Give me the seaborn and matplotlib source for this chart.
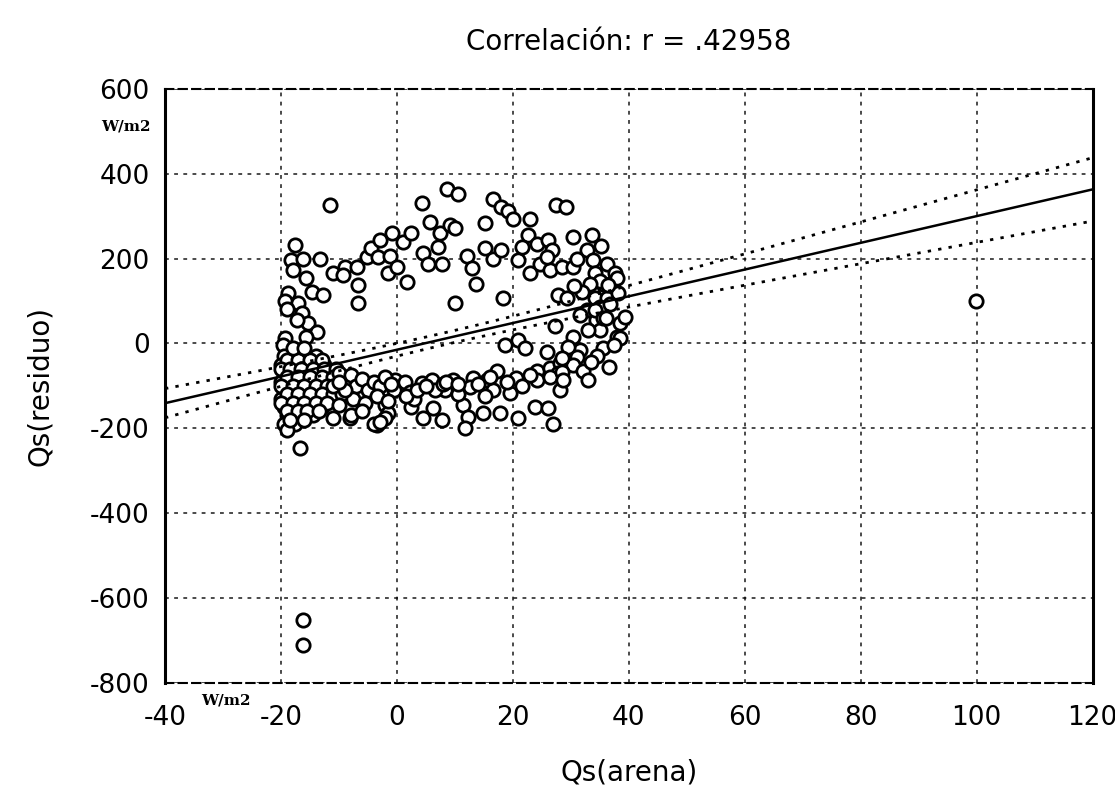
import numpy as np
import pandas as pd
import matplotlib
matplotlib.use("Agg")
import matplotlib.pyplot as plt
import seaborn as sns

# --- observations: Qs(arena) vs Qs(residuo), W/m2 ---
upper_x = [-11.5, -17.6, -18.2, -16.2, -13.3, -17.9, -15.6, -18.8, -19.3, -17.0,
           -14.7, -12.7, -19.0, -16.4, -15.3, -17.3, -13.8, -19.3, -15.6, -11.0,
           -9.0, -9.3, -6.9, -6.7, -6.7, -5.2, -4.4, -2.9, -0.9, -3.3,
           -1.2, -1.5, 0.0, 1.0, 2.5, 1.7, 4.3, 5.7, 7.4, 9.1,
           7.1, 4.5, 5.3, 7.7, 10.0,
           8.6, 10.5, 16.6, 18.0, 19.2, 20.0, 22.9, 27.5, 29.2, 10.0,
           15.2, 22.6, 24.1, 26.0, 26.7, 30.3, 33.6, 12.0, 15.2, 16.6,
           18.0, 20.9, 12.9, 13.7, 22.9, 24.7, 26.4, 28.4, 30.3, 25.8,
           32.7, 33.8, 36.2, 37.6, 34.1, 18.3, 27.8, 29.3, 33.8, 35.5,
           37.2, 34.1, 36.2, 38.1, 32.7, 35.0, 31.6, 34.4, 35.0, 27.2,
           30.3, 37.9, 38.4, 39.3,
           37.9, 35.0, 33.3, 36.4, 34.1, 36.8, 35.5, 32.9, 38.5, 31.0,
           35.2, 21.5, -19.6, -17.0, 32.0, 30.5, 36.0, 31.5, 35.5, 37.5]
upper_y = [327, 233, 196, 198, 200, 172, 153, 118, 101, 94,
           120, 113, 82, 71, 47, 54, 26, 12, 14, 165,
           179, 160, 181, 137, 94, 203, 224, 243, 259, 203,
           207, 165, 179, 238, 259, 144, 332, 285, 259, 278,
           226, 212, 188, 188, 94,
           365, 353, 341, 321, 313, 294, 294, 325, 321, 271,
           283, 255, 235, 243, 219, 250, 255, 207, 224, 200,
           219, 196, 177, 141, 165, 188, 172, 179, 179, 203,
           219, 196, 188, 165, 165, 108, 113, 108, 132, 141,
           144, 108, 108, 118, 78, 85, 66, 54, 31, 42,
           14, 14, 49, 61,
           153, 148, 141, 137, 78, 92, 59, 31, 12, 200,
           230, 226, -5, -15, 120, 135, 60, -15, -10, -5]

lower_x = [18.6, 20.9, 22.1, 25.8, 29.5, 31.0, 24.1, 26.4, 28.1, 27.8,
           30.3, 32.1, 32.9, 24.1, 26.4, 28.1, 20.6, 19.5, 17.2, 15.5,
           13.1, 16.6, 15.2, 9.7, 8.3, 11.4, 12.2, 11.7, 14.8, 17.8,
           20.9, 23.8, 26.0, 26.9, 7.7, 28.4, 28.4, 28.6,
           -0.3, 1.4, 2.2, 4.3, 6.0, 6.6, 12.6, 2.5, 4.5, 6.2,
           -8.1, -3.5, -2.1, -1.5, 8.0, 10.5, 3.0, 34.5, 36.5,
           -0.5, 1.5, 3.5, 5.0, 8.5, 10.5, 14.0, 16.0, 19.0, 21.5,
           23.0, 33.5]
lower_y = [-5, 7, -12, -21, -9, -33, -64, -59, -47, -71,
           -52, -64, -87, -87, -80, -111, -82, -118, -64, -87,
           -82, -111, -123, -87, -111, -146, -174, -200, -165, -163,
           -177, -151, -153, -189, -181, -35, -68, -87,
           -87, -92, -115, -94, -87, -111, -104, -151, -177, -153,
           -177, -193, -146, -165, -95, -120, -130, -30, -55,
           -110, -125, -110, -100, -90, -95, -95, -80, -90, -100,
           -75, -45]

# dense group near Qs(arena) = -20 .. -12
cluster_x = [-19.5, -16.5, -14.0,
             -20.0, -18.0, -16.0, -14.5, -12.5,
             -19.5, -17.5, -15.5, -13.5, -11.5,
             -20.0, -18.5, -16.5, -14.5, -12.5, -10.5,
             -19.5, -17.5, -15.5, -13.5, -11.5,
             -20.0, -18.0, -16.0, -14.0, -12.0,
             -19.5, -17.5, -15.5, -13.0,
             -19.0, -17.0, -14.5,
             -19.5, -17.5, -19.0, -16.7,
             -19.0, -17.0, -15.0, -13.0,
             -20.0, -18.5, -16.5, -14.5, -12.5, -10.5,
             -19.0, -17.0, -15.0, -13.0, -11.0,
             -20.0, -18.0, -16.0, -14.0, -12.0,
             -19.0, -17.0, -15.0, -13.0, -11.0,
             -20.0, -18.0, -16.0, -14.0, -12.0,
             -19.0, -17.0, -15.5, -13.5,
             -18.5, -16.0, -18.0, -16.0]
cluster_y = [-30, -30, -30,
             -50, -50, -50, -50, -50,
             -70, -70, -70, -70, -70,
             -90, -90, -90, -90, -90, -90,
             -110, -110, -110, -110, -110,
             -130, -130, -130, -130, -130,
             -150, -150, -150, -150,
             -170, -170, -170,
             -190, -190, -205, -247,
             -40, -40, -40, -40,
             -60, -60, -60, -60, -60, -60,
             -80, -80, -80, -80, -80,
             -100, -100, -100, -100, -100,
             -120, -120, -120, -120, -120,
             -140, -140, -140, -140, -140,
             -160, -160, -160, -160,
             -180, -180, -10, -10]

# band between -12 and 0
band_x = [-10.0, -9.0, -8.0, -7.0, -6.0, -5.0, -4.0, -3.0, -2.0, -1.0,
          -9.5, -7.5, -5.5, -3.5, -1.5, -10.0, -8.0, -6.0, -4.0, -2.0,
          -11.0, -3.0, -11.0, -9.0, -10.0]
band_y = [-70, -95, -75, -100, -85, -110, -90, -100, -80, -95,
          -120, -130, -140, -125, -135, -145, -170, -160, -190, -175,
          -175, -185, -100, -110, -90]

outlier_x = [-16.2, -16.2, 99.9]
outlier_y = [-653, -712, 101]

# --- fitted regression (OLS) and 95% confidence band ---
fit_intercept = -15.0
fit_slope = 3.15
fit_n = 350
fit_xbar = 8.0
fit_sxx = 162000.0
fit_se = 134.0
fit_t = 1.967

title_text = "Correlación: r = .42958"
x_label = "Qs(arena)"
y_label = "Qs(residuo)"
unit_text = "W/m2"
x_ticks = [-40, -20, 0, 20, 40, 60, 80, 100, 120]
y_ticks = [-800, -600, -400, -200, 0, 200, 400, 600]

# --- assemble frames ---
pts = pd.DataFrame({
    "arena": upper_x + lower_x + cluster_x + band_x + outlier_x,
    "residuo": upper_y + lower_y + cluster_y + band_y + outlier_y,
})

xs = np.linspace(x_ticks[0], x_ticks[-1], 300)
yhat = fit_intercept + fit_slope * xs
half = fit_t * fit_se * np.sqrt(1.0 / fit_n + (xs - fit_xbar) ** 2 / fit_sxx)
fit_df = pd.DataFrame({"arena": xs, "fit": yhat,
                       "lo": yhat - half, "hi": yhat + half})

# --- figure ---
sns.set_theme(style="white")
plt.rcParams["font.family"] = ["DejaVu Sans"]
plt.rcParams["axes.unicode_minus"] = False
plt.rcParams["text.color"] = "black"
plt.rcParams["axes.labelcolor"] = "black"

fig = plt.figure(figsize=(11.15, 7.93), dpi=100)
ax = fig.add_axes([0.148, 0.139, 0.832, 0.749])

ax.set_xlim(x_ticks[0], x_ticks[-1])
ax.set_ylim(y_ticks[0], y_ticks[-1])
ax.set_xticks(x_ticks)
ax.set_yticks(y_ticks)
ax.grid(True, color="black", linestyle=(0, (2.5, 3.5)), linewidth=1.1, alpha=0.9)
ax.set_axisbelow(True)

sns.scatterplot(data=pts, x="arena", y="residuo", ax=ax, marker="o",
                s=92, facecolor="white", edgecolor="black", linewidth=2.0,
                zorder=3, legend=False)

sns.lineplot(data=fit_df, x="arena", y="fit", ax=ax, color="black",
             linewidth=1.8, zorder=4)
for col in ("lo", "hi"):
    sns.lineplot(data=fit_df, x="arena", y=col, ax=ax, color="black",
                 linewidth=2.0, linestyle=(0, (1.2, 2.6)), zorder=4)

ax.set_xlabel(x_label, fontsize=20, labelpad=20, color="black")
ax.set_ylabel(y_label, fontsize=20, labelpad=26, color="black")
ax.set_title(title_text, fontsize=20, pad=28, color="black")
ax.tick_params(axis="both", length=0, labelsize=19, colors="black")
ax.tick_params(axis="x", pad=16)
ax.tick_params(axis="y", pad=11)

for side in ("left", "right"):
    ax.spines[side].set_color("black")
    ax.spines[side].set_linewidth(2.2)
for side in ("top", "bottom"):
    ax.spines[side].set_color("black")
    ax.spines[side].set_linewidth(1.5)
    ax.spines[side].set_linestyle((0, (4, 2.5)))

# unit annotations beside the axes
fig.text(0.113, 0.841, unit_text, fontsize=11, fontweight="bold",
         family="DejaVu Serif", ha="center", va="center")
fig.text(0.203, 0.117, unit_text, fontsize=11, fontweight="bold",
         family="DejaVu Serif", ha="center", va="center")

fig.savefig("out.png", dpi=100, facecolor="white")
